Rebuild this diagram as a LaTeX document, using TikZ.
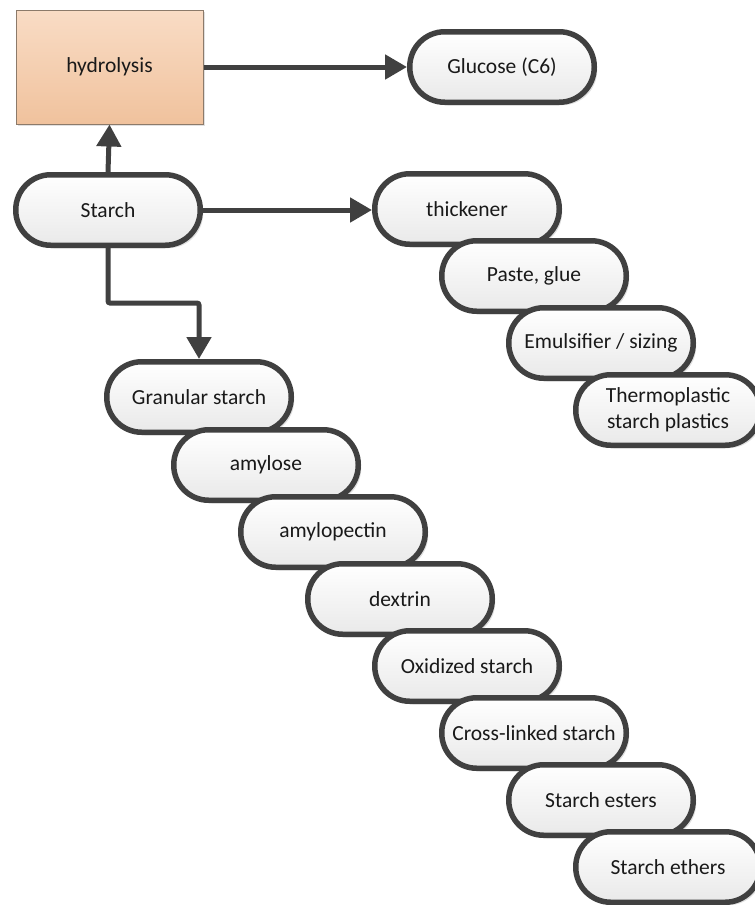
\documentclass[tikz,border=0pt]{standalone}
\usepackage{fontspec}
\setmainfont{Carlito}
\usetikzlibrary{arrows.meta,shadows}
\definecolor{edge}{HTML}{404040}
\definecolor{peachtop}{HTML}{F9DCC5}
\definecolor{peachbot}{HTML}{F0C29D}
\definecolor{peachedge}{HTML}{8C7A6A}
\definecolor{pilltop}{HTML}{FFFFFF}
\definecolor{pillbot}{HTML}{E9E9E9}
\tikzset{
  pill/.style={draw=edge, line width=5.5pt, rounded corners=35pt,
    minimum width=184.5pt, minimum height=70.5pt, inner sep=0pt,
    top color=pilltop, bottom color=pillbot, align=center,
    text=black!90, font=\fontsize{21.5}{26}\selectfont,
    drop shadow={shadow xshift=3pt, shadow yshift=-3pt, fill=black, opacity=0.12}},
  procbox/.style={draw=peachedge, line width=1pt,
    minimum width=187pt, minimum height=114pt, inner sep=0pt,
    top color=peachtop, bottom color=peachbot,
    text=black!90, font=\fontsize{21.5}{26}\selectfont,
    drop shadow={shadow xshift=2pt, shadow yshift=-2pt, fill=black, opacity=0.12}},
  link/.style={draw=edge, line width=5pt,
    -{Triangle[length=22pt,width=24pt]}}
}
\begin{document}
\begin{tikzpicture}[x=1pt,y=-1pt]
\useasboundingbox (0,0) rectangle (755,905);

% process box and its product
\node[procbox] (hyd) at (109.5,67) {hydrolysis};
\node[pill] (glu) at (502,67) {Glucose (C6)};

% source
\node[pill] (starch) at (108,210) {Starch};

% uses of starch
\node[pill] (thick) at (467,209) {thickener};
\node[pill] (paste) at (534,276) {Paste, glue};
\node[pill] (emul)  at (601,343) {Emulsifier / sizing};
\node[pill] (thermo) at (668,410) {Thermoplastic\\starch plastics};

% starch forms and derivatives
\node[pill] (gran)  at (199,397) {Granular starch};
\node[pill] (amyl)  at (266,465) {amylose};
\node[pill] (amylp) at (333,532) {amylopectin};
\node[pill] (dext)  at (400,599) {dextrin};
\node[pill] (oxid)  at (467,666) {Oxidized starch};
\node[pill] (cross) at (534,733) {Cross-linked starch};
\node[pill] (ester) at (601,800) {Starch esters};
\node[pill] (ether) at (668,867) {Starch ethers};

% connectors
\draw[link] (starch.north) -- (hyd.south);
\draw[link] (hyd.east) -- (glu.west);
\draw[link] (starch.east) -- (starch.east -| thick.west);
\coordinate (bend) at (108,303);
\draw[link, rounded corners=2pt] (starch.south) -- (bend) -| (gran.north);
\end{tikzpicture}
\end{document}
